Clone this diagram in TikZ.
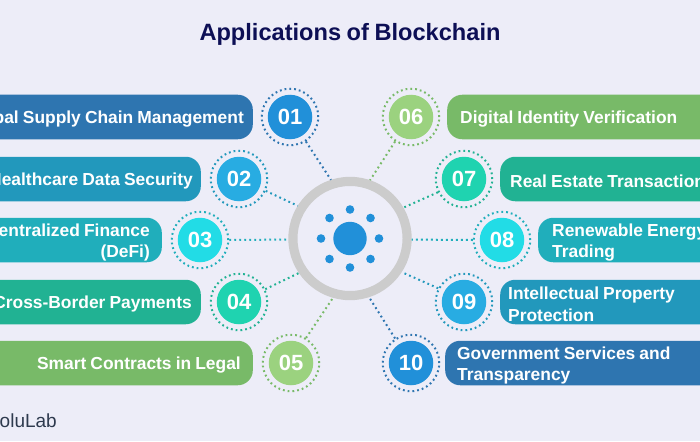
\documentclass[tikz,border=0pt]{standalone}
\usepackage{fontspec}
\setmainfont[WordSpace=0.85]{Liberation Sans}
\usetikzlibrary{calc}
\definecolor{pageback}{HTML}{EDEDF8}
\definecolor{titleink}{HTML}{0D0F55}
\definecolor{logoink}{HTML}{2E3A4E}
\definecolor{ringgrey}{HTML}{CCCCCC}
\definecolor{hubblue}{HTML}{2190D9}
\definecolor{barA}{HTML}{2E75B0}
\definecolor{barB}{HTML}{2298BC}
\definecolor{barC}{HTML}{20AEBB}
\definecolor{barD}{HTML}{21B293}
\definecolor{barE}{HTML}{78BA68}
\definecolor{discA}{HTML}{2190D9}
\definecolor{discB}{HTML}{28ACE2}
\definecolor{discC}{HTML}{22DCE6}
\definecolor{discD}{HTML}{1FD3B0}
\definecolor{discE}{HTML}{9BD27F}
\tikzset{
  pill/.style={rounded corners=15pt,minimum height=44.5pt,minimum width=320pt,inner sep=0pt},
  pilltext/.style={inner sep=0pt,text=white,font=\bfseries\fontsize{17.4}{21.3}\selectfont},
  num/.style={circle,minimum size=44.5pt,inner sep=0pt,text=white,font=\bfseries\fontsize{22}{22}\selectfont},
  halo/.style={circle,minimum size=56.5pt,inner sep=0pt,draw,line width=2pt,dash pattern=on 1.8pt off 3pt},
  dots/.style={line width=2pt,dash pattern=on 1.8pt off 3.2pt},
  spot/.style={circle,fill=hubblue,minimum size=8.6pt,inner sep=0pt}
}
\begin{document}
\begin{tikzpicture}[x=1pt,y=-1pt]
  \useasboundingbox[fill=pageback] (0,0) rectangle (700,441);
  \node[text=titleink,font=\bfseries\fontsize{23.6}{24}\selectfont] (title) at (350,34) {Applications of Blockchain};
  \node[anchor=east,inner sep=0pt,text=logoink,font=\fontsize{19}{19}\selectfont] (logo) at (57,420.5) {SoluLab};
  % hub
  \node[circle,draw=ringgrey,line width=9.2pt,minimum size=114.2pt,inner sep=0pt] (hub) at (350,238.5) {};
  \node[circle,fill=hubblue,minimum size=33.4pt,inner sep=0pt] (core) at (hub) {};
  \foreach \ang in {0,45,...,315}
    \node[spot] (spot\ang) at ($(hub)+(\ang:29pt)$) {};
  % left side
  \foreach \idx/\bar/\disc/\xnum/\ynum/\xend/\pad/\txt in {
      01/barA/discA/290/117/253/9/{Global Supply Chain Management},
      02/barB/discB/239/179/201/8/{Healthcare Data Security},
      03/barC/discC/200/240/162/12/{Decentralized Finance\\(DeFi)},
      04/barD/discD/239/302/201/9/{Cross-Border Payments},
      05/barE/discE/291/363/253/12/{Smart Contracts in Legal}} {
    \node[pill,fill=\bar,anchor=east] (bar\idx) at (\xend,\ynum) {};
    \node[pilltext,anchor=east,align=right] (lab\idx) at ($(bar\idx.east)+(-\pad pt,-2.3pt)$) {\txt};
    \node[num,fill=\disc] (num\idx) at (\xnum,\ynum) {\idx};
    \node[halo,draw=\bar] (halo\idx) at (num\idx) {};
  }
  % right side
  \foreach \idx/\bar/\disc/\xnum/\ynum/\xend/\pad/\txt in {
      06/barE/discE/411/117/447/13/{Digital Identity Verification},
      07/barD/discD/464/179/500/10/{Real Estate Transactions},
      08/barC/discC/502/240/538/14/{Renewable Energy\\Trading},
      09/barB/discB/464/302/500/8/{Intellectual Property\\Protection},
      10/barA/discA/411/363/445/12/{Government Services and\\Transparency}} {
    \node[pill,fill=\bar,anchor=west] (bar\idx) at (\xend,\ynum) {};
    \node[pilltext,anchor=west,align=left] (lab\idx) at ($(bar\idx.west)+(\pad pt,-2.3pt)$) {\txt};
    \node[num,fill=\disc] (num\idx) at (\xnum,\ynum) {\idx};
    \node[halo,draw=\bar] (halo\idx) at (num\idx) {};
  }
  % links to the hub
  \foreach \idx/\bar/\from/\to in {
      01/barA/-57/108, 02/barB/-24/148, 03/barC/0/181, 04/barD/26/214, 05/barE/59/254,
      06/barE/237/71, 07/barD/207/30, 08/barC/180/359, 09/barB/152/-33, 10/barA/123/-72}
    \draw[dots,\bar] (halo\idx.\from) -- (hub.\to);
\end{tikzpicture}
\end{document}
